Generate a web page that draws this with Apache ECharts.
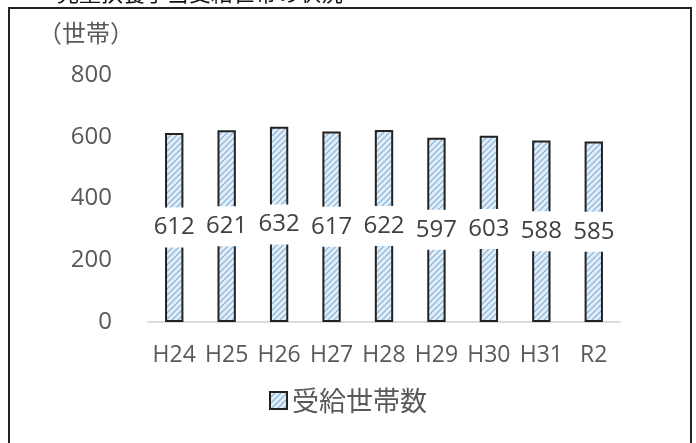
<!DOCTYPE html>
<html>
<head>
<meta charset="utf-8">
<script src="https://cdn.jsdelivr.net/npm/echarts@6/dist/echarts.min.js"></script>
<style>
  html, body { margin: 0; padding: 0; background: #fff; }
  #chart { width: 696px; height: 443px; }
</style>
</head>
<body>
<div id="chart"></div>
<script>
// Fiscal years and number of households receiving the allowance
const years = ['H24', 'H25', 'H26', 'H27', 'H28', 'H29', 'H30', 'H31', 'R2'];
const households = [612, 621, 632, 617, 622, 597, 603, 588, 585];
const yTicks = [0, 200, 400, 600, 800];
const seriesName = '受給世帯数';

// Diagonal hatch fill for the bars
function hatch() {
  const c = document.createElement('canvas');
  c.width = 6; c.height = 6;
  const g = c.getContext('2d');
  g.fillStyle = '#e3eef8';
  g.fillRect(0, 0, 6, 6);
  g.strokeStyle = '#8fb8dd';
  g.lineWidth = 1.3;
  g.beginPath();
  g.moveTo(0, 6); g.lineTo(6, 0);
  g.moveTo(-3, 3); g.lineTo(3, -3);
  g.moveTo(3, 9); g.lineTo(9, 3);
  g.stroke();
  return c;
}
const fill = { image: hatch(), repeat: 'repeat' };
const cjk = '"Noto Sans CJK JP", "Open Sans", sans-serif';
const latin = '"Open Sans", sans-serif';

const chart = echarts.init(document.getElementById('chart'), null, { renderer: 'canvas' });
chart.setOption({
  animation: false,
  textStyle: { fontFamily: cjk },
  title: {
    text: '児童扶養手当受給世帯の状況',
    left: 52, top: -23,
    textStyle: { fontSize: 22, fontWeight: 'normal', color: '#111', fontFamily: cjk }
  },
  graphic: [{
    type: 'rect', shape: { x: 9, y: 8, width: 682, height: 460 },
    style: { fill: 'none', stroke: '#222', lineWidth: 2 }, silent: true, z: 100
  }, {
    type: 'text', left: 38, top: 21,
    style: { text: '（世帯）', fontSize: 24, fill: '#595959', fontFamily: cjk }
  }],
  legend: {
    bottom: 24, left: 'center',
    itemWidth: 17, itemHeight: 17, itemGap: 5,
    textStyle: { fontSize: 27, color: '#595959', fontFamily: cjk },
    data: [{ name: seriesName, icon: 'rect' }]
  },
  grid: { left: 148, right: 76, top: 75, bottom: 121 },
  xAxis: {
    type: 'category', data: years,
    axisLine: { lineStyle: { color: '#d0d0d0', width: 1.5 } },
    axisTick: { show: false },
    axisLabel: { interval: 0, fontSize: 23, color: '#595959', margin: 22, fontFamily: latin }
  },
  yAxis: {
    type: 'value', min: yTicks[0], max: yTicks[yTicks.length - 1], interval: 200,
    axisLine: { show: false }, axisTick: { show: false },
    splitLine: { show: false },
    axisLabel: { fontSize: 24, color: '#595959', margin: 36, fontFamily: latin }
  },
  series: [{
    name: seriesName, type: 'bar', data: households,
    barWidth: '35%',
    itemStyle: { color: fill, borderColor: '#222', borderWidth: 2 },
    label: {
      show: true, position: 'inside',
      fontSize: 24, color: '#404040', fontFamily: latin,
      backgroundColor: '#fff', padding: [8, 3, 8, 3]
    }
  }]
});
</script>
</body>
</html>
